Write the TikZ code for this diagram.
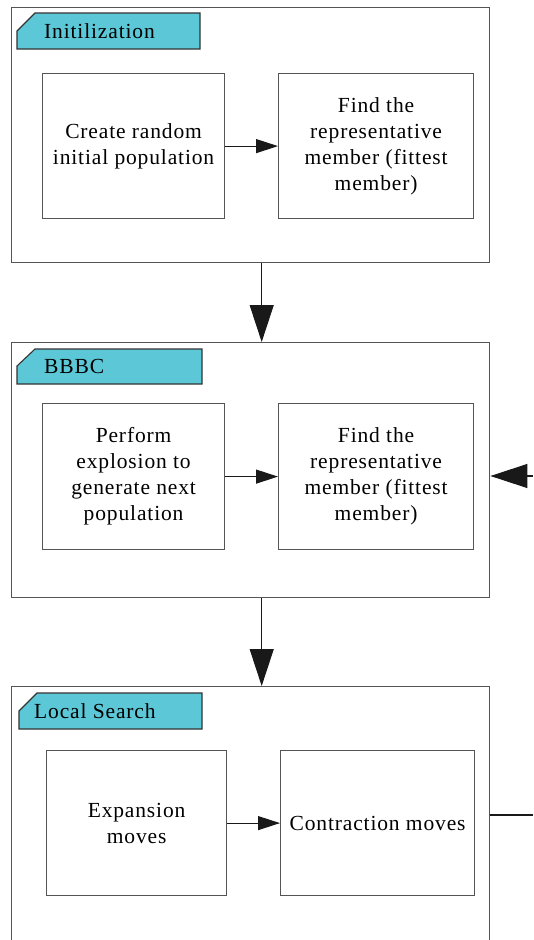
\documentclass[tikz,border=0pt]{standalone}
\usepackage{fontspec}
\setmainfont{Liberation Serif}[LetterSpace=4]
\usetikzlibrary{arrows.meta}

\definecolor{tabcyan}{RGB}{92,199,214}
\definecolor{edgegray}{RGB}{85,85,85}

\tikzset{
  frame/.style={draw=edgegray, line width=1.4pt, anchor=north west, inner sep=0pt},
  stepbox/.style={draw=edgegray, line width=1.2pt, anchor=north west, inner sep=0pt,
    align=center, font=\fontsize{21.5}{26}\selectfont},
  tabshape/.style={draw=black!80, line width=1.1pt, fill=tabcyan},
  tabtext/.style={anchor=west, inner sep=0pt, font=\fontsize{21.5}{26}\selectfont},
  flow/.style={-{Triangle[length=22pt,width=14pt]}, line width=1.1pt, black!90},
  bigflow/.style={-{Triangle[length=37pt,width=24pt]}, line width=1.1pt, black!90},
}

\begin{document}
\begin{tikzpicture}[x=1pt,y=-1pt]
\useasboundingbox (0,0) rectangle (533,940);
\clip (0,0) rectangle (533,940);

% stage frames
\node[frame, minimum width=478pt, minimum height=255pt] (init) at (11,7) {};
\node[frame, minimum width=478pt, minimum height=255pt] (bbbc) at (11,342) {};
\node[frame, minimum width=478pt, minimum height=300pt] (local) at (11,686) {};

% stage tabs
\draw[tabshape] (17,49) -- (17,31) -- (35,13) -- (200,13) -- (200,49) -- cycle;
\node[tabtext] (tinit) at (44,31) {Initilization};
\draw[tabshape] (17,384) -- (17,366) -- (35,349) -- (202,349) -- (202,384) -- cycle;
\node[tabtext] (tbbbc) at (44,366.5) {BBBC};
\draw[tabshape] (19,729) -- (19,711) -- (37,693) -- (202,693) -- (202,729) -- cycle;
\node[tabtext] (tlocal) at (34,711) {Local Search};

% steps
\node[stepbox, minimum width=182pt, minimum height=145pt] (create) at (42,73)
  {Create random\\initial population};
\node[stepbox, minimum width=195pt, minimum height=145pt] (find1) at (278,73)
  {Find the\\representative\\member (fittest\\member)};
\node[stepbox, minimum width=182pt, minimum height=146pt] (explode) at (42,403)
  {Perform\\explosion to\\generate next\\population};
\node[stepbox, minimum width=195pt, minimum height=146pt] (find2) at (278,403)
  {Find the\\representative\\member (fittest\\member)};
\node[stepbox, minimum width=180pt, minimum height=145pt] (expand) at (46,750)
  {Expansion\\moves};
\node[stepbox, minimum width=194pt, minimum height=145pt] (contract) at (280,750)
  {Contraction moves};

% connectors
\draw[flow] (create) -- (find1);
\draw[flow] (explode) -- (find2);
\draw[flow] (expand) -- (contract);
\draw[bigflow] ([xshift=11pt]init.south) -- ([xshift=11pt]bbbc.north);
\draw[bigflow] ([xshift=11pt]bbbc.south) -- ([xshift=11pt]local.north);

\coordinate (loopin) at (533,476);
\coordinate (loopout) at (533,815);
\draw[bigflow] (loopin) -- (loopin -| bbbc.east);
\draw[line width=1.1pt, black!90] (local.east |- loopout) -- (loopout);
\end{tikzpicture}
\end{document}
